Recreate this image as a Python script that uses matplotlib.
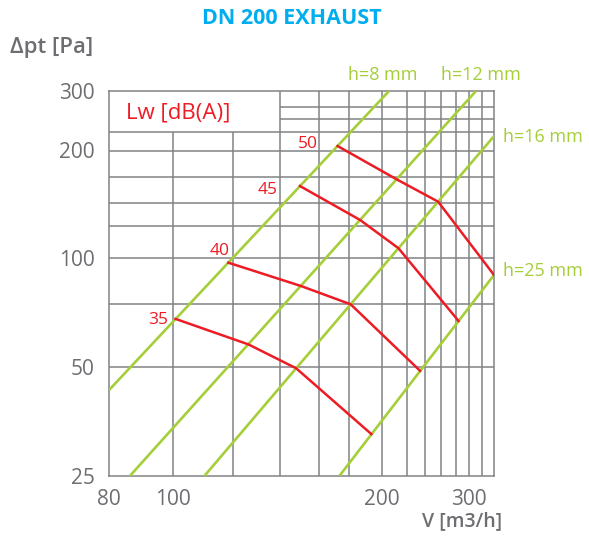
import numpy as np
import matplotlib
matplotlib.use("Agg")
import matplotlib.pyplot as plt

# ---------------- data ----------------
x_grid = [80, 100, 120, 140, 160, 180, 200, 220, 240, 260, 280, 300, 320, 340]
y_grid = [25, 50, 75, 100, 125, 150, 175, 200, 225, 250, 275, 300]
x_ticks = [80, 100, 200, 300]
y_ticks = [25, 50, 100, 200, 300]

# damper position lines (h)
h_names = ["h=8 mm", "h=12 mm", "h=16 mm", "h=25 mm"]
h8_x, h8_y = [80, 205.5], [43.1, 300]
h12_x, h12_y = [86.0, 310.6], [25, 300]
h16_x, h16_y = [110.0, 340], [25, 219.3]
h25_x, h25_y = [173.1, 340], [25, 90.3]

# sound power level curves Lw
lw_names = ["35", "40", "45", "50"]
lw35_x, lw35_y = [100.7, 126.3, 147.9, 193.3], [68.2, 57.8, 49.5, 32.6]
lw40_x, lw40_y = [118.4, 150.3, 180.8, 234.5], [97.3, 84.1, 75.0, 48.7]
lw45_x, lw45_y = [149.8, 186.4, 213.1, 283.4], [165.6, 131.0, 107.2, 67.3]
lw50_x, lw50_y = [171.9, 211.6, 256.3, 339.5], [205.7, 172.3, 150.9, 90.1]

# ---------------- scale (chart's own irregular log grid) ----------------
W, H = 589, 552
x_anchor_px = [109, 173.3, 232.7, 280, 319.3, 349.3, 382, 406.7, 425, 441, 456.3, 469.3, 481.7, 494.3]
y_anchor_px = [476, 366.7, 304.3, 258.3, 226, 202.7, 176.7, 150.5, 131.7, 118.7, 107.3, 91]


def make_funcs(vals, pos):
    lv = np.log(np.asarray(vals, float))
    p = np.asarray(pos, float)
    s0 = (p[1] - p[0]) / (lv[1] - lv[0])
    s1 = (p[-1] - p[-2]) / (lv[-1] - lv[-2])

    def fwd(v):
        v = np.asarray(v, float)
        shp = v.shape
        v = np.atleast_1d(v).ravel()
        l = np.log(np.clip(v, 1e-12, None))
        out = np.interp(l, lv, p)
        lo = l < lv[0]
        hi = l > lv[-1]
        out[lo] = p[0] + (l[lo] - lv[0]) * s0
        out[hi] = p[-1] + (l[hi] - lv[-1]) * s1
        return out.reshape(shp)

    def inv(u):
        u = np.asarray(u, float)
        shp = u.shape
        u = np.atleast_1d(u).ravel()
        out = np.interp(u, p, lv)
        lo = u < p[0]
        hi = u > p[-1]
        out[lo] = lv[0] + (u[lo] - p[0]) / s0
        out[hi] = lv[-1] + (u[hi] - p[-1]) / s1
        return np.exp(out).reshape(shp)

    return fwd, inv


xf, xi = make_funcs(x_grid, x_anchor_px)
yf, yi = make_funcs(y_grid, [-v for v in y_anchor_px])

# ---------------- style ----------------
GREEN = "#a6ce39"
RED = "#ed1c24"
CYAN = "#00aeef"
GRAYTXT = "#6d6e71"
GRID = "#808285"

plt.rcParams["font.family"] = ["Open Sans", "DejaVu Sans"]

fig = plt.figure(figsize=(W / 100, H / 100), dpi=100)
ax = fig.add_axes([109 / W, 1 - 476 / H, (494.3 - 109) / W, (476 - 91) / H])
ax.set_xscale("function", functions=(xf, xi))
ax.set_yscale("function", functions=(yf, yi))
ax.set_xlim(x_grid[0], x_grid[-1])
ax.set_ylim(y_grid[0], y_grid[-1])

# grid (box for the Lw legend in the upper-left corner is kept clear)
box_x, box_y = 140, 225
for xv in x_grid[1:-1]:
    top = box_y if xv < box_x else y_grid[-1]
    ax.vlines(xv, y_grid[0], top, color=GRID, lw=1.1, zorder=1)
for yv in y_grid[1:-1]:
    left = box_x if yv > box_y else x_grid[0]
    ax.hlines(yv, left, x_grid[-1], color=GRID, lw=1.1, zorder=1)
for sp in ax.spines.values():
    sp.set_color(GRID)
    sp.set_linewidth(1.1)

# h lines
for hx, hy in [(h8_x, h8_y), (h12_x, h12_y), (h16_x, h16_y), (h25_x, h25_y)]:
    ax.plot(hx, hy, color=GREEN, lw=1.9, solid_capstyle="butt", zorder=3, clip_on=True)

# Lw curves
lw_offsets = [(-7, 1), (1, 14), (-22, -1.5), (-20, 4)]
for name, (lx, ly), off in zip(lw_names,
                               [(lw35_x, lw35_y), (lw40_x, lw40_y), (lw45_x, lw45_y), (lw50_x, lw50_y)],
                               lw_offsets):
    ax.plot(lx, ly, color=RED, lw=1.8, zorder=4, solid_joinstyle="miter")
    ax.annotate(name, (lx[0], ly[0]), xytext=off, textcoords="offset pixels",
                ha="right", va="center_baseline", color=RED, fontsize=12.5)

ax.set_xticks(x_ticks)
ax.set_xticklabels([str(v) for v in x_ticks])
ax.set_yticks(y_ticks)
ax.set_yticklabels([str(v) for v in y_ticks])
ax.minorticks_off()
ax.tick_params(axis="y", length=0, pad=10.5, labelsize=15, labelcolor=GRAYTXT)
ax.tick_params(axis="x", length=0, pad=9.5, labelsize=15, labelcolor=GRAYTXT)

# texts
fig.text(292 / W, 1 - 19 / H, "DN 200 EXHAUST", ha="center", va="center",
         color=CYAN, fontsize=15.5, fontweight="bold")
fig.text(10 / W, 1 - 47 / H, "Δpt [Pa]", ha="left", va="center",
         color=GRAYTXT, fontsize=16, fontweight="semibold")
fig.text(462.5 / W, 1 - 526 / H, "V [m3/h]", ha="center", va="baseline",
         color=GRAYTXT, fontsize=14, fontweight="semibold")
fig.text(126.5 / W, 1 - 113 / H, "Lw [dB(A)]", ha="left", va="center",
         color=RED, fontsize=16)

h_label_px = [(348, 75), (441, 75), (503, 137.5), (503, 271.5)]
for name, (px, py) in zip(h_names, h_label_px):
    fig.text(px / W, 1 - py / H, name, ha="left", va="center", color=GREEN, fontsize=13)

fig.savefig("out.png", dpi=100)
